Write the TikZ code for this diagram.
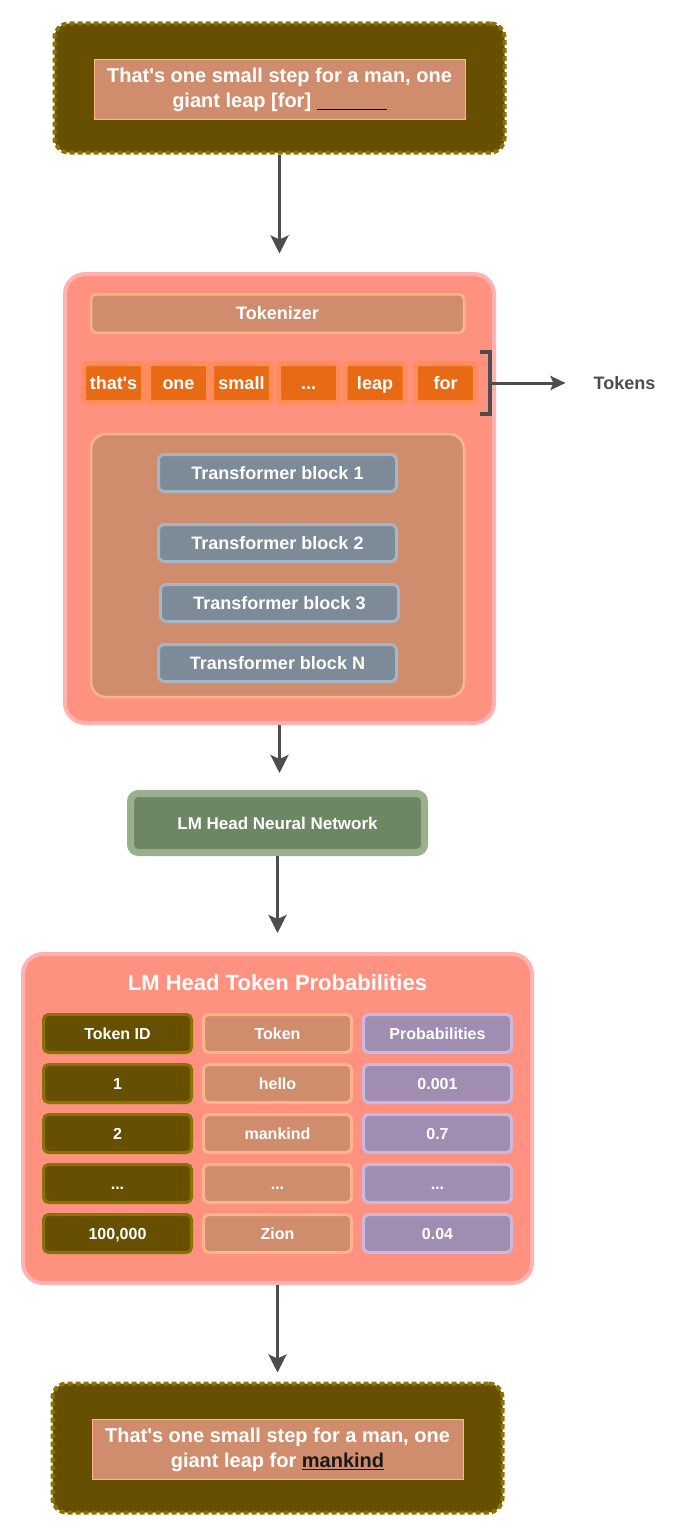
\documentclass[tikz,border=0pt]{standalone}
\usepackage{fontspec}
\setmainfont{Liberation Sans}
\usetikzlibrary{arrows.meta, positioning}

\definecolor{olivefill}{RGB}{102,80,0}
\definecolor{olivedraw}{RGB}{140,115,0}
\definecolor{clayfill}{RGB}{208,141,110}
\definecolor{claydraw}{RGB}{255,180,142}
\definecolor{salmonfill}{RGB}{255,145,128}
\definecolor{salmondraw}{RGB}{255,178,178}
\definecolor{tokenfill}{RGB}{232,106,20}
\definecolor{tokendraw}{RGB}{255,140,92}
\definecolor{slatefill}{RGB}{125,139,153}
\definecolor{slatedraw}{RGB}{166,181,196}
\definecolor{sagefill}{RGB}{109,135,100}
\definecolor{sagedraw}{RGB}{154,175,142}
\definecolor{lilacfill}{RGB}{161,141,178}
\definecolor{lilacdraw}{RGB}{202,184,222}
\definecolor{arrowgray}{RGB}{77,77,77}

\tikzstyle{promptframe} = [rectangle, rounded corners=14pt, draw=olivedraw, fill=olivefill, line width=4pt, dash pattern=on 5pt off 3pt, minimum width=450pt, minimum height=129pt]
\tikzstyle{sentence} = [rectangle, draw=claydraw, fill=clayfill, line width=1pt, minimum width=371pt, minimum height=60pt, inner sep=0pt, align=center, text=white, font=\fontsize{20}{25}\selectfont\bfseries]
\tikzstyle{panel} = [rectangle, rounded corners=20pt, draw=salmondraw, fill=salmonfill, line width=4pt]
\tikzstyle{block} = [rectangle, rounded corners=5pt, draw=claydraw, fill=clayfill, line width=2.5pt, text=white, text height=12.9pt, text depth=0pt, font=\fontsize{18}{22}\selectfont\bfseries]
\tikzstyle{token} = [rectangle, rounded corners=3pt, draw=tokendraw, fill=tokenfill, line width=5pt, minimum width=60pt, minimum height=39pt, inner sep=0pt, text=white, text height=12.9pt, text depth=0pt, font=\fontsize{18}{22}\selectfont\bfseries]
\tikzstyle{tblock} = [rectangle, rounded corners=6pt, draw=slatedraw, fill=slatefill, line width=3pt, minimum width=238pt, minimum height=37pt, text=white, text height=12.9pt, text depth=0pt, font=\fontsize{18}{22}\selectfont\bfseries]
\tikzstyle{nnhead} = [rectangle, rounded corners=8pt, draw=sagedraw, fill=sagefill, line width=7pt, minimum width=294pt, minimum height=59pt, text=white, font=\fontsize{17}{21}\selectfont\bfseries]
\tikzstyle{idcell} = [rectangle, rounded corners=5pt, draw=olivedraw, fill=olivefill, line width=3pt, minimum width=148pt, minimum height=38pt, inner sep=0pt, text=white, text height=11.5pt, text depth=0pt, font=\fontsize{16}{20}\selectfont\bfseries]
\tikzstyle{tokcell} = [idcell, draw=claydraw, fill=clayfill]
\tikzstyle{probcell} = [idcell, draw=lilacdraw, fill=lilacfill]
\tikzstyle{flow} = [line width=3pt, draw=arrowgray, -{Stealth[length=18pt, width=18pt, inset=4pt]}]
\tikzstyle{tokenflow} = [line width=3pt, draw=arrowgray, -{Stealth[length=15pt, width=14pt, inset=3pt]}]
\tikzstyle{bracket} = [line width=4pt, draw=arrowgray]

\begin{document}
\begin{tikzpicture}[x=1pt, y=-1pt]
	\useasboundingbox (0,0) rectangle (690,1536);

	% Prompt
	\node (prompt_frame) [promptframe] at (279.5,88) {};
	\node (prompt) [sentence] at (279.5,89.5) {That\textquotesingle s one small step for a man, one\\giant leap [for] {\color{black}\rule[-3pt]{70pt}{1.6pt}}};

	% Model with tokenizer and transformer stack
	\node (model) [panel, minimum width=429pt, minimum height=449pt] at (279.5,498.5) {};
	\node (tokenizer) [block, minimum width=373pt, minimum height=38.5pt] at (277.5,313.5) {Tokenizer};

	\node (tok1) [token] at (113.5,383) {that\textquotesingle s};
	\node (tok2) [token, right=0pt of tok1] {one};
	\node (tok3) [token, right=-2pt of tok2] {small};
	\node (tok4) [token, right=2pt of tok3] {...};
	\node (tok5) [token, right=1.5pt of tok4] {leap};
	\node (tok6) [token, right=5.5pt of tok5] {for};

	\coordinate (brk) at (490,383);
	\node (tokens_label) [inner sep=0pt, text=arrowgray, font=\fontsize{18}{22}\selectfont\bfseries] at (624.5,383) {Tokens};

	\node (stack) [block, rounded corners=15pt, minimum width=373pt, minimum height=263pt] at (277.5,565.5) {};
	\node (block1) [tblock] at (277.5,473) {Transformer block 1};
	\node (block2) [tblock, below=30pt of block1] {Transformer block 2};
	\node (block3) [tblock, below=20pt of block2, xshift=2pt] {Transformer block 3};
	\node (blockN) [tblock, below=20pt of block3, xshift=-2pt] {Transformer block N};

	% LM head
	\node (lmhead) [nnhead] at (277.5,823) {LM Head Neural Network};

	% Probability table
	\node (probs) [panel, minimum width=509pt, minimum height=329pt] at (277.5,1118.5) {};
	\node (probs_title) [text=white, font=\fontsize{22}{26}\selectfont\bfseries] at (277.5,983) {LM Head Token Probabilities};

	\node (id0) [idcell] at (117.5,1033.5) {Token ID};
	\node (tk0) [tokcell, right=9pt of id0] {Token};
	\node (pr0) [probcell, right=9pt of tk0] {Probabilities};

	\node (id1) [idcell, below=9pt of id0] {1};
	\node (tk1) [tokcell, right=9pt of id1] {hello};
	\node (pr1) [probcell, right=9pt of tk1] {0.001};

	\node (id2) [idcell, below=9pt of id1] {2};
	\node (tk2) [tokcell, right=9pt of id2] {mankind};
	\node (pr2) [probcell, right=9pt of tk2] {0.7};

	\node (id3) [idcell, below=9pt of id2] {...};
	\node (tk3) [tokcell, right=9pt of id3] {...};
	\node (pr3) [probcell, right=9pt of tk3] {...};

	\node (id4) [idcell, below=9pt of id3] {100,000};
	\node (tk4) [tokcell, right=9pt of id4] {Zion};
	\node (pr4) [probcell, right=9pt of tk4] {0.04};

	% Answer
	\node (answer_frame) [promptframe] at (277.5,1448) {};
	\node (answer) [sentence] at (277.5,1449.5) {That\textquotesingle s one small step for a man, one\\giant leap for {\color{black!90}\underline{mankind}}};

	% Arrows
	\draw[flow, shorten >=18.5pt] (prompt_frame) -- (model);
	\draw[flow, shorten >=17pt] (model.south) -- (model.south |- lmhead.north);
	\draw[flow, shorten >=19pt] (lmhead) -- (probs);
	\draw[flow, shorten >=9pt] (probs) -- (answer_frame);

	% Tokens bracket
	\draw[bracket] ([xshift=-10pt, yshift=31pt]brk) -- ([yshift=31pt]brk) -- ([yshift=-31pt]brk) -- ([xshift=-10pt, yshift=-31pt]brk);
	\draw[tokenflow, shorten >=28pt] (brk) -- (tokens_label);

\end{tikzpicture}
\end{document}
